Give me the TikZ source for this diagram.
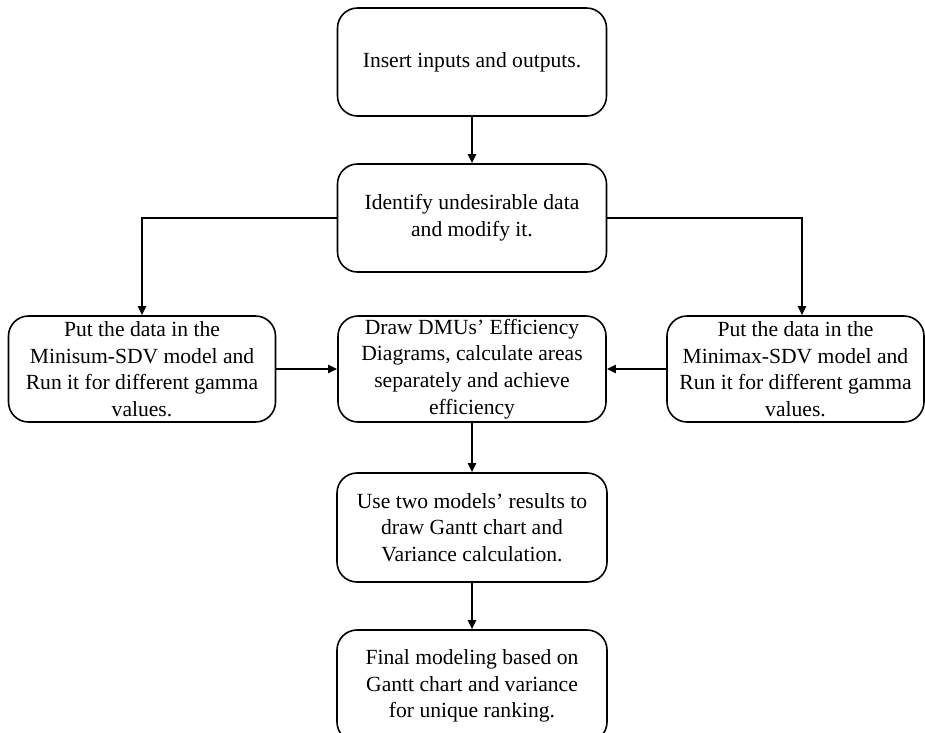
\documentclass[tikz,border=0pt]{standalone}
\usepackage{fontspec}
\setmainfont{Liberation Serif}
\usetikzlibrary{arrows.meta,calc}
\begin{document}
\begin{tikzpicture}[x=1pt,y=1pt,
  stepbox/.style={draw=black,line width=1.6pt,rounded corners=20pt,align=center,
    font=\fontsize{21.6}{26.6}\selectfont,inner sep=0pt},
  conn/.style={line width=2pt,-{Triangle[length=9pt,width=8pt]}}]
\useasboundingbox (0,0) rectangle (925,-732);
\begin{scope}
\clip (0,0) rectangle (925,-732);
\node[stepbox,minimum width=269pt,minimum height=108pt] (b1) at (472,-62) {Insert inputs and outputs.};
\node[stepbox,minimum width=269pt,minimum height=108pt] (b2) at (472,-218) {Identify undesirable data\\and modify it.};
\node[stepbox,minimum width=267pt,minimum height=106pt] (b3) at (142,-369) {Put the data in the\\Minisum-SDV model and\\Run it for different gamma\\values.};
\node[stepbox,minimum width=268pt,minimum height=106pt] (b4) at (472,-369) {Draw DMUs’ Efficiency\\Diagrams, calculate areas\\separately and achieve\\efficiency};
\node[stepbox,minimum width=257pt,minimum height=106pt] (b5) at (795.5,-369) {Put the data in the\\Minimax-SDV model and\\Run it for different gamma\\values.};
\node[stepbox,minimum width=270pt,minimum height=109pt] (b6) at (472,-527.5) {Use two models’ results to\\draw Gantt chart and\\Variance calculation.};
\node[stepbox,minimum width=270pt,minimum height=112pt] (b7) at (472,-686) {Final modeling based on\\Gantt chart and variance\\for unique ranking.};
\coordinate (r5) at ($(b5.north)+(6.5,0)$);
\draw[conn] (b1) -- (b2);
\draw[conn] (b2.west) -| (b3.north);
\draw[conn] (b2.east) -| (r5);
\draw[conn] (b3) -- (b4);
\draw[conn] (b5) -- (b4);
\draw[conn] (b4) -- (b6);
\draw[conn] (b6) -- (b7);
\end{scope}
\end{tikzpicture}
\end{document}
